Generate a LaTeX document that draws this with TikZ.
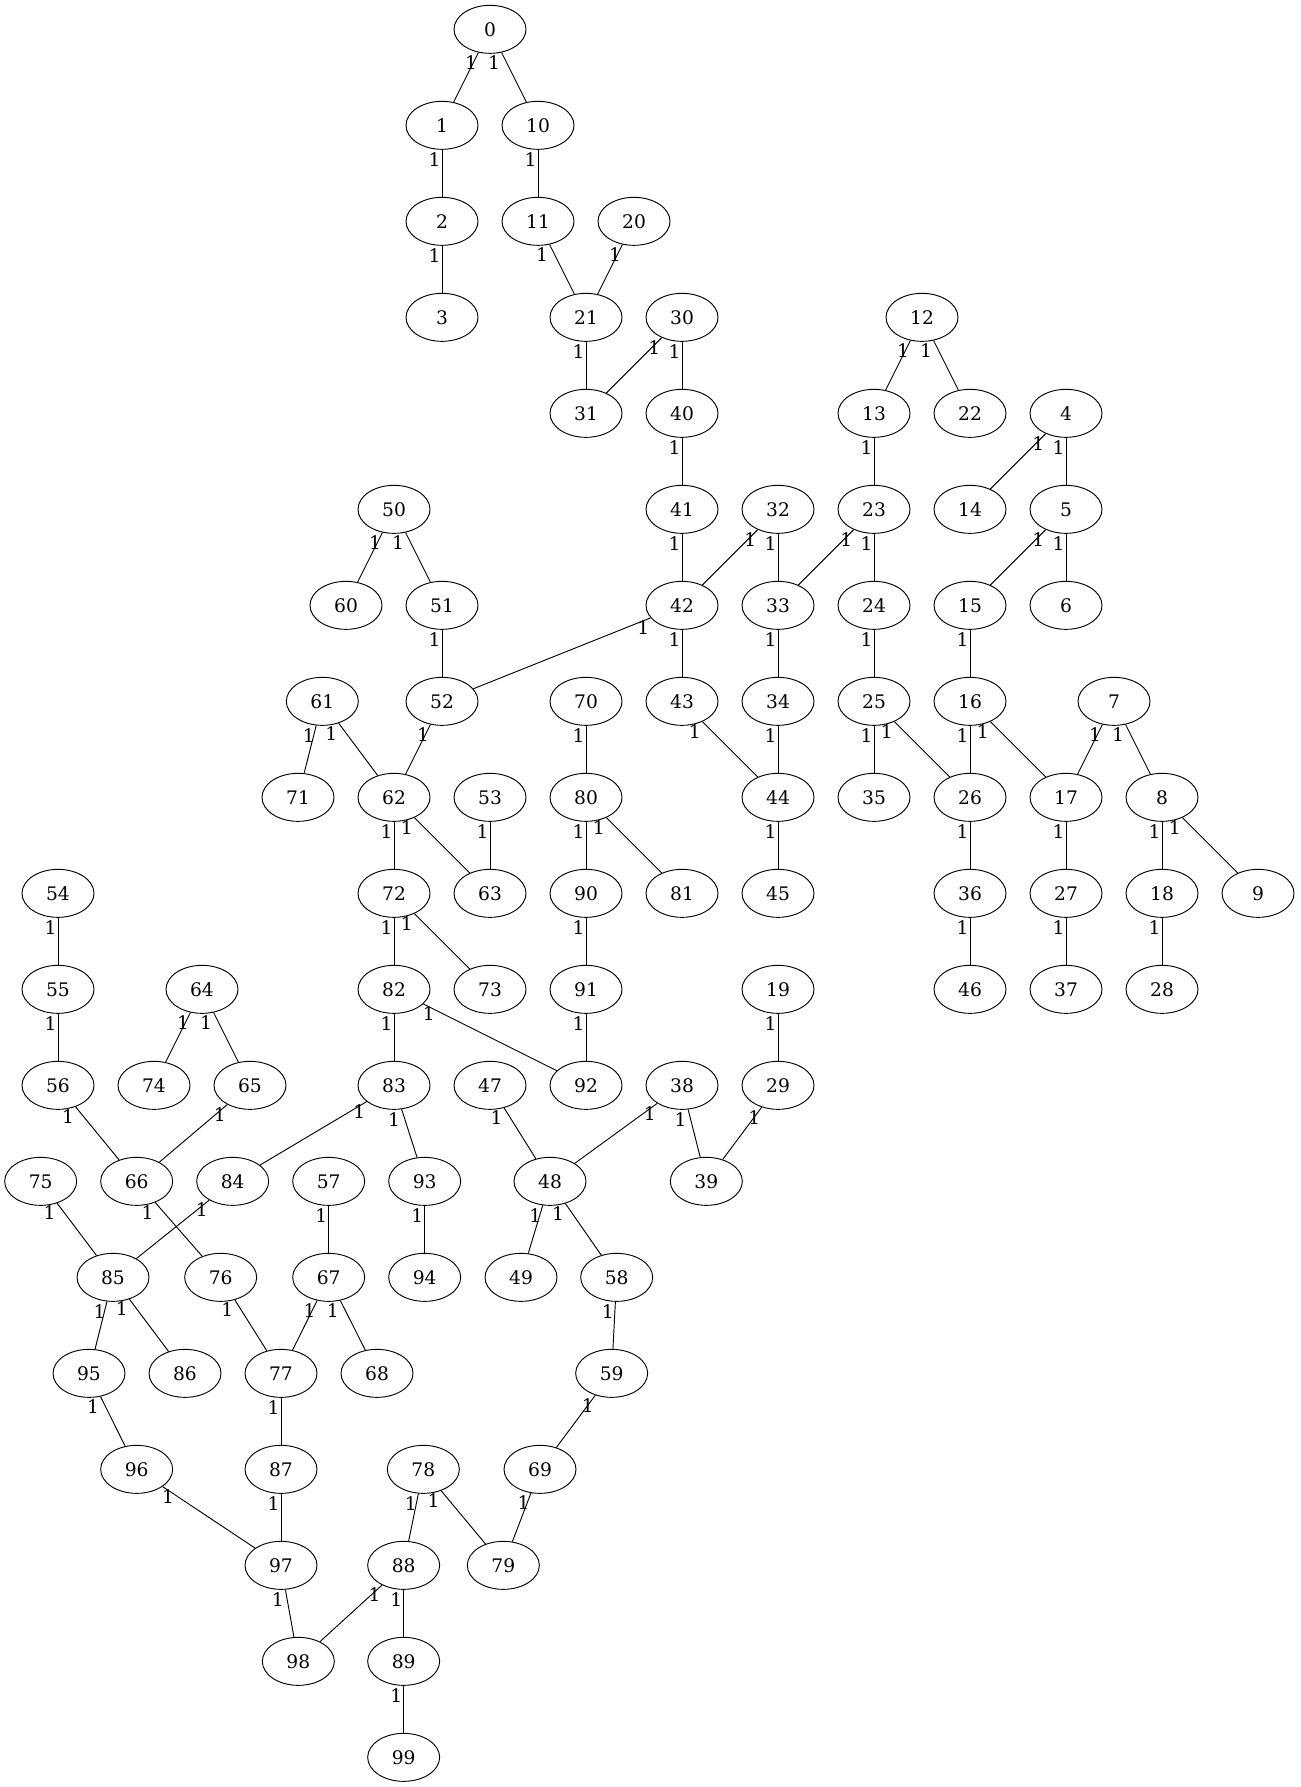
\documentclass[tikz,border=0pt]{standalone}
\usepackage{fontspec}
\setmainfont{DejaVu Serif}
\usepackage{tikz}
\usetikzlibrary{shapes.geometric}

\begin{document}
\begin{tikzpicture}[x=1pt,y=1pt,line width=0.7pt,
   vtx/.style={ellipse,draw,minimum width=54pt,minimum height=36pt,inner sep=0pt,
      font=\fontsize{14pt}{17pt}\selectfont},
   lbl/.style={pos=0,inner sep=0pt,xshift=-5.6pt,yshift=-7.4pt,
      font=\fontsize{14pt}{17pt}\selectfont},
   lblr/.style={lbl,xshift=9.8pt,yshift=0pt}]
   \useasboundingbox (0,0) rectangle (975,-1340.25);
   % one loop per rank
   \foreach \k/\x in {0/367.5} \node[vtx] (n\k) at (\x,-22) {\k};
   \foreach \k/\x in {1/331.5,10/403.5} \node[vtx] (n\k) at (\x,-94) {\k};
   \foreach \k/\x in {2/331.5,11/403.5,20/475.5} \node[vtx] (n\k) at (\x,-166) {\k};
   \foreach \k/\x in {3/331.5,21/439.5,30/511.5,12/691.5} \node[vtx] (n\k) at (\x,-238) {\k};
   \foreach \k/\x in {31/439.5,40/511.5,13/655.5,22/727.5,4/799.5} \node[vtx] (n\k) at (\x,-310) {\k};
   \foreach \k/\x in {50/295.5,41/511.5,32/583.5,23/655.5,14/727.5,5/799.5} \node[vtx] (n\k) at (\x,-382) {\k};
   \foreach \k/\x in {60/259.5,51/331.5,42/511.5,33/583.5,24/655.5,15/727.5,6/799.5} \node[vtx] (n\k) at (\x,-454) {\k};
   \foreach \k/\x in {61/241.75,52/331.5,70/439.5,43/511.5,34/583.5,25/655.5,16/727.5,7/835.5} \node[vtx] (n\k) at (\x,-526) {\k};
   \foreach \k/\x in {71/223.5,62/295.5,53/367.5,80/439.5,44/583.5,35/655.5,26/727.5,17/799.5,8/871.5} \node[vtx] (n\k) at (\x,-598) {\k};
   \foreach \k/\x in {54/43.5,72/295.5,63/367.5,90/439.5,81/511.5,45/583.5,36/727.5,27/799.5,18/871.5,9/943.5} \node[vtx] (n\k) at (\x,-670) {\k};
   \foreach \k/\x in {55/43.5,64/151.5,82/295.5,73/367.5,91/439.5,19/583.5,46/727.5,37/799.5,28/871.5} \node[vtx] (n\k) at (\x,-742) {\k};
   \foreach \k/\x in {56/43.5,74/115.5,65/187.5,83/295.5,47/367.5,92/439.5,38/511.5,29/583.5} \node[vtx] (n\k) at (\x,-814) {\k};
   \foreach \k/\x in {75/30.5,66/102.5,84/174.5,57/246.5,93/318.5,48/412.5,39/529.75} \node[vtx] (n\k) at (\x,-886) {\k};
   \foreach \k/\x in {85/84.75,76/165.5,67/246.5,94/318.5,49/390.75,58/462.5} \node[vtx] (n\k) at (\x,-958) {\k};
   \foreach \k/\x in {95/66.75,86/138.75,77/210.75,68/282.75,59/458.75} \node[vtx] (n\k) at (\x,-1030) {\k};
   \foreach \k/\x in {96/102.5,87/210.75,78/317.5,69/405} \node[vtx] (n\k) at (\x,-1102) {\k};
   \foreach \k/\x in {97/210.75,88/302.75,79/377.5} \node[vtx] (n\k) at (\x,-1174) {\k};
   \foreach \k/\x in {98/223.75,89/302.75} \node[vtx] (n\k) at (\x,-1246) {\k};
   \foreach \k/\x in {99/302.75} \node[vtx] (n\k) at (\x,-1318) {\k};
   % edges, weight at the tail
   \foreach \a/\b in {0/1,0/10,1/2,2/3,10/11,11/21,20/21,21/31,30/31,30/40,40/41,41/42,
      32/42,32/33,42/52,42/43,12/13,12/22,13/23,23/33,23/24,4/14,4/5,5/15,5/6,33/34,
      24/25,15/16,50/60,50/51,51/52,61/71,61/62,52/62,70/80,43/44,34/44,25/35,25/26,
      16/26,16/17,7/17,7/8,62/72,62/63,53/63,80/90,80/81,44/45,26/36,17/27,8/18,8/9,
      54/55,72/82,72/73,90/91,36/46,27/37,18/28,64/74,64/65,55/56,82/83,91/92,19/29,
      56/66,65/66,83/84,83/93,47/48,38/48,38/39,29/39,75/85,66/76,84/85,57/67,93/94,
      48/49,48/58,85/95,85/86,76/77,67/77,67/68,58/59,95/96,77/87,59/69,87/97,78/88,
      78/79,69/79,97/98,88/98,88/89,89/99}
      \draw (n\a) -- node[lbl] {1} (n\b);
   \draw (n82) -- node[lblr] {1} (n92);
   \draw (n96) -- node[lblr] {1} (n97);
\end{tikzpicture}
\end{document}
